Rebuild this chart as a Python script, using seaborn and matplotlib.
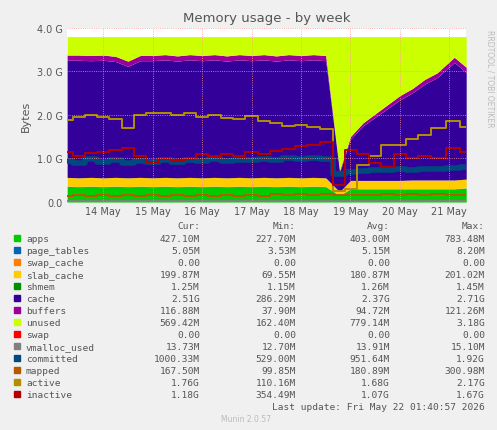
import numpy as np
import pandas as pd
import matplotlib
matplotlib.use("Agg")
import matplotlib.pyplot as plt
import seaborn as sns

# time in days of May, roughly 6-hour steps
days = [13.27, 13.5, 13.75, 14.0, 14.25, 14.5, 14.75, 15.0, 15.25, 15.5, 15.75,
        16.0, 16.25, 16.5, 16.75, 17.0, 17.25, 17.5, 17.75, 18.0, 18.25, 18.5,
        18.78, 19.0, 19.25, 19.5, 19.75, 20.0, 20.25, 20.5, 20.75, 21.1, 21.34]

# values in GB
apps = [0.36, 0.35, 0.36, 0.35, 0.36, 0.35, 0.36, 0.35, 0.36, 0.35, 0.36,
        0.35, 0.36, 0.35, 0.36, 0.35, 0.36, 0.35, 0.36, 0.35, 0.36, 0.35,
        0.15, 0.30, 0.30, 0.30, 0.30, 0.30, 0.30, 0.30, 0.30, 0.30, 0.32]
page_tables = [0.005] * 33
swap_cache = [0.0] * 33
slab_cache = [0.20, 0.20, 0.20, 0.20, 0.20, 0.20, 0.20, 0.20, 0.20, 0.20, 0.20,
              0.20, 0.20, 0.20, 0.20, 0.20, 0.20, 0.20, 0.20, 0.20, 0.20, 0.20,
              0.08, 0.19, 0.19, 0.19, 0.19, 0.19, 0.20, 0.20, 0.20, 0.20, 0.20]
shmem = [0.001] * 33
cache = [2.69, 2.70, 2.68, 2.70, 2.66, 2.56, 2.68, 2.69, 2.70, 2.68, 2.70,
         2.69, 2.70, 2.68, 2.70, 2.69, 2.70, 2.68, 2.70, 2.69, 2.70, 2.69,
         0.45, 0.95, 1.25, 1.45, 1.65, 1.85, 2.00, 2.20, 2.35, 2.70, 2.45]
buffers = [0.12, 0.12, 0.12, 0.12, 0.12, 0.12, 0.12, 0.12, 0.12, 0.12, 0.12,
           0.12, 0.12, 0.12, 0.12, 0.12, 0.12, 0.12, 0.12, 0.12, 0.12, 0.12,
           0.04, 0.06, 0.07, 0.08, 0.09, 0.10, 0.10, 0.11, 0.11, 0.12, 0.12]
total_mem = 3.8
swap = [0.0] * 33
vmalloc_used = [0.014] * 33
committed = [0.95, 0.90, 0.98, 0.92, 0.96, 0.90, 0.95, 0.93, 0.97, 0.92, 0.96,
             0.94, 0.98, 0.95, 0.97, 0.96, 0.99, 0.97, 1.00, 0.98, 1.00, 0.99,
             0.65, 0.70, 0.72, 0.74, 0.73, 0.75, 0.74, 0.76, 0.75, 0.78, 0.80]
mapped = [0.13, 0.17, 0.14, 0.17, 0.13, 0.17, 0.14, 0.17, 0.13, 0.17, 0.14,
          0.17, 0.13, 0.17, 0.14, 0.17, 0.14, 0.18, 0.15, 0.18, 0.15, 0.19,
          0.16, 0.15, 0.17, 0.15, 0.18, 0.15, 0.18, 0.15, 0.18, 0.16, 0.17]
active = [1.88, 1.95, 2.00, 1.95, 1.90, 1.70, 2.00, 2.05, 2.05, 2.00, 2.05,
          1.95, 2.00, 1.92, 1.90, 1.98, 1.85, 1.82, 1.75, 1.78, 1.72, 1.68,
          0.25, 0.30, 0.85, 1.05, 1.30, 1.30, 1.45, 1.55, 1.70, 1.85, 1.72]
inactive = [1.15, 1.05, 1.12, 1.15, 1.20, 1.25, 1.05, 0.92, 1.00, 0.95, 1.02,
            1.10, 1.05, 1.10, 1.05, 1.15, 1.10, 1.18, 1.22, 1.28, 1.30, 1.38,
            0.40, 1.20, 1.10, 0.90, 0.80, 1.10, 1.00, 1.05, 1.00, 1.25, 1.15]

names = ["apps", "page_tables", "swap_cache", "slab_cache", "shmem", "cache",
         "buffers", "unused", "swap", "vmalloc_used", "committed", "mapped",
         "active", "inactive"]
colors = ["#00CC00", "#0066B3", "#FF8000", "#FFCC00", "#008F00", "#330099",
          "#990099", "#CCFF00", "#FF0000", "#808080", "#00487D", "#B35A00",
          "#B38F00", "#B30000"]
cur = ["427.10M", "5.05M", "0.00", "199.87M", "1.25M", "2.51G", "116.88M",
       "569.42M", "0.00", "13.73M", "1000.33M", "167.50M", "1.76G", "1.18G"]
mins = ["227.70M", "3.53M", "0.00", "69.55M", "1.15M", "286.29M", "37.90M",
        "162.40M", "0.00", "12.70M", "529.00M", "99.85M", "110.16M", "354.49M"]
avgs = ["403.00M", "5.15M", "0.00", "180.87M", "1.26M", "2.37G", "94.72M",
        "779.14M", "0.00", "13.91M", "951.64M", "180.89M", "1.68G", "1.07G"]
maxs = ["783.48M", "8.20M", "0.00", "201.02M", "1.45M", "2.71G", "121.26M",
        "3.18G", "0.00", "15.10M", "1.92G", "300.98M", "2.17G", "1.67G"]

sns.set_style("white")
plt.rcParams['font.family'] = ['DejaVu Sans']

a = np.array
used = a(apps) + a(page_tables) + a(swap_cache) + a(slab_cache) + a(shmem) + a(cache) + a(buffers)
unused = total_mem - used

df = pd.DataFrame({"day": days, "vmalloc_used": vmalloc_used, "committed": committed,
                   "mapped": mapped, "active": active, "inactive": inactive})

fig = plt.figure(figsize=(4.97, 4.31), dpi=100, facecolor="#F0F0F0")
ax = fig.add_axes([0.135, 0.529, 0.803, 0.404])
ax.stackplot(days, apps, page_tables, swap_cache, slab_cache, shmem, cache, buffers,
             unused, swap, colors=colors[:9], linewidth=0)
for col, c in zip(["vmalloc_used", "committed", "mapped", "active", "inactive"], colors[9:]):
    lw = 4 if col == "committed" else 1.4
    sns.lineplot(data=df, x="day", y=col, ax=ax, color=c, linewidth=lw,
                 estimator=None, drawstyle="steps-mid")

ax.set_xlim(13.27, 21.34)
ax.set_ylim(0, 4.0)
ax.set_xticks([14, 15, 16, 17, 18, 19, 20, 21])
ax.set_xticklabels([f"{d} May" for d in range(14, 22)], fontsize=7, color="#555555")
ax.set_yticks([0, 1, 2, 3, 4])
ax.set_yticklabels(["0.0", "1.0 G", "2.0 G", "3.0 G", "4.0 G"], fontsize=7, color="#555555")
ax.set_xlabel("")
ax.set_ylabel("Bytes", fontsize=8, color="#555555")
ax.grid(True, color="#FF9999", linestyle=":", linewidth=0.6)
ax.set_axisbelow(False)
for s in ax.spines.values():
    s.set_visible(False)
ax.tick_params(length=0, pad=3)
ax.set_title("Memory usage - by week", fontsize=9.5, color="#555555", pad=5)

fig.text(0.985, 0.93, "RRDTOOL / TOBI OETIKER", rotation=270, fontsize=5.5,
         color="#BBBBBB", va="top", ha="center")

mono = "DejaVu Sans Mono"
hy = 1 - 229 / 431
for txt, xr in zip(["Cur:", "Min:", "Avg:", "Max:"], [200, 296, 390, 485]):
    fig.text(xr / 497, hy, txt, fontsize=6.8, family=mono, color="#555555", ha="right")
for i, n in enumerate(names):
    y = 1 - (240 + 12 * i) / 431
    fig.patches.append(plt.Rectangle((14 / 497, y - 0.004), 6 / 497, 6 / 431,
                                     transform=fig.transFigure, color=colors[i]))
    fig.text(26 / 497, y, n, fontsize=6.8, family=mono, color="#555555", va="center")
    for v, xr in zip([cur[i], mins[i], avgs[i], maxs[i]], [200, 296, 390, 485]):
        fig.text(xr / 497, y, v, fontsize=6.8, family=mono, color="#555555",
                 va="center", ha="right")
fig.text(485 / 497, 1 - 408 / 431, "Last update: Fri May 22 01:40:57 2026", fontsize=6.8,
         family=mono, color="#555555", ha="right", va="center")
fig.text(246 / 497, 1 - 420 / 431, "Munin 2.0.57", fontsize=5.5, color="#BBBBBB",
         ha="center", va="center")

fig.savefig("out.png", dpi=100, facecolor=fig.get_facecolor())
